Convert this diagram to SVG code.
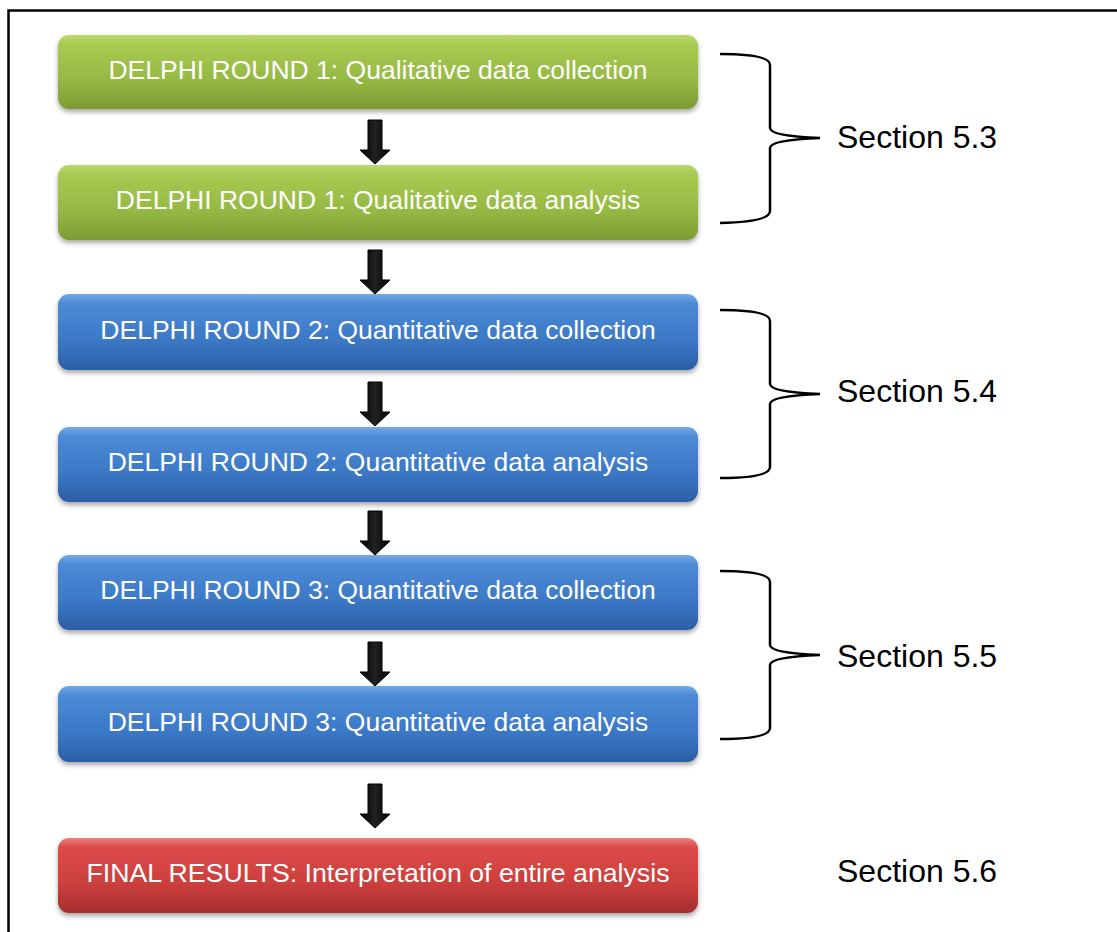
<svg xmlns="http://www.w3.org/2000/svg" width="1117" height="932" viewBox="0 0 1117 932">
  <defs>
    <linearGradient id="gGreen" x1="0" y1="0" x2="0" y2="1">
      <stop offset="0" stop-color="#b9da6a"/>
      <stop offset="0.12" stop-color="#a8ca52"/>
      <stop offset="0.6" stop-color="#96b944"/>
      <stop offset="1" stop-color="#7d9b34"/>
    </linearGradient>
    <linearGradient id="gBlue" x1="0" y1="0" x2="0" y2="1">
      <stop offset="0" stop-color="#74a9e6"/>
      <stop offset="0.12" stop-color="#4d8bd6"/>
      <stop offset="0.6" stop-color="#3b78c6"/>
      <stop offset="1" stop-color="#2c5ea6"/>
    </linearGradient>
    <linearGradient id="gRed" x1="0" y1="0" x2="0" y2="1">
      <stop offset="0" stop-color="#ee7f7c"/>
      <stop offset="0.12" stop-color="#dc4c4a"/>
      <stop offset="0.6" stop-color="#cc3f3d"/>
      <stop offset="1" stop-color="#a52f2e"/>
    </linearGradient>
    <linearGradient id="gArrow" x1="0" y1="0" x2="1" y2="0">
      <stop offset="0" stop-color="#000"/>
      <stop offset="0.5" stop-color="#222"/>
      <stop offset="1" stop-color="#000"/>
    </linearGradient>
    <filter id="shadow" x="-5%" y="-20%" width="110%" height="150%">
      <feDropShadow dx="0" dy="3" stdDeviation="2.5" flood-color="#000" flood-opacity="0.35"/>
    </filter>
    <path id="arrow" d="M-7,0 H7 V30 H15 L0,44 L-15,30 H-7 Z"/>
  </defs>
  <style>
    .box { filter: url(#shadow); }
    .lbl { font-family: "Liberation Sans", Arial, sans-serif; font-size: 26.5px; fill: #ffffff; text-anchor: middle; }
    .sec { font-family: "Liberation Sans", Arial, sans-serif; font-size: 32px; fill: #000000; }
    .brace { fill: none; stroke: #000; stroke-width: 2.5; }
    .arr { fill: url(#gArrow); stroke: #000; stroke-width: 1; }
  </style>

  <rect width="1117" height="932" fill="#ffffff"/>
  <!-- frame -->
  <rect x="8.5" y="10.5" width="1130" height="940" fill="none" stroke="#000" stroke-width="2.5"/>

  <g id="n1">
    <rect class="box" x="58" y="35" width="640" height="74" rx="11" fill="url(#gGreen)"/>
    <text class="lbl" x="378" y="79">DELPHI ROUND 1: Qualitative data collection</text>
  </g>
  <g id="n2">
    <rect class="box" x="58" y="165" width="640" height="75" rx="11" fill="url(#gGreen)"/>
    <text class="lbl" x="378" y="209">DELPHI ROUND 1: Qualitative data analysis</text>
  </g>
  <g id="n3">
    <rect class="box" x="58" y="294" width="640" height="76" rx="11" fill="url(#gBlue)"/>
    <text class="lbl" x="378" y="339">DELPHI ROUND 2: Quantitative data collection</text>
  </g>
  <g id="n4">
    <rect class="box" x="58" y="427" width="640" height="75" rx="11" fill="url(#gBlue)"/>
    <text class="lbl" x="378" y="471">DELPHI ROUND 2: Quantitative data analysis</text>
  </g>
  <g id="n5">
    <rect class="box" x="58" y="555" width="640" height="75" rx="11" fill="url(#gBlue)"/>
    <text class="lbl" x="378" y="599">DELPHI ROUND 3: Quantitative data collection</text>
  </g>
  <g id="n6">
    <rect class="box" x="58" y="686" width="640" height="76" rx="11" fill="url(#gBlue)"/>
    <text class="lbl" x="378" y="731">DELPHI ROUND 3: Quantitative data analysis</text>
  </g>
  <g id="n7">
    <rect class="box" x="58" y="838" width="640" height="75" rx="11" fill="url(#gRed)"/>
    <text class="lbl" x="378" y="882" textLength="583" lengthAdjust="spacingAndGlyphs">FINAL RESULTS: Interpretation of entire analysis</text>
  </g>

  <g id="connectors">
    <g transform="translate(375,120)"><use href="#arrow" class="arr"/></g>
    <g transform="translate(375,250)"><use href="#arrow" class="arr"/></g>
    <g transform="translate(375,382)"><use href="#arrow" class="arr"/></g>
    <g transform="translate(375,511)"><use href="#arrow" class="arr"/></g>
    <g transform="translate(375,642)"><use href="#arrow" class="arr"/></g>
    <g transform="translate(375,784)"><use href="#arrow" class="arr"/></g>
  </g>

  <g id="sections">
    <path class="brace" d="M720,54 Q770,54 770,65 V128 Q770,136 820,138 Q770,140 770,148 V211 Q770,222 720,223"/>
    <text class="sec" x="837" y="148">Section 5.3</text>
    <path class="brace" d="M720,310 Q770,310 770,321 V384 Q770,392 820,394 Q770,396 770,404 V467 Q770,478 720,478"/>
    <text class="sec" x="837" y="402">Section 5.4</text>
    <path class="brace" d="M720,571 Q770,571 770,582 V645 Q770,653 820,655 Q770,657 770,665 V728 Q770,739 720,739"/>
    <text class="sec" x="837" y="667">Section 5.5</text>
    <text class="sec" x="837" y="882">Section 5.6</text>
  </g>
</svg>
